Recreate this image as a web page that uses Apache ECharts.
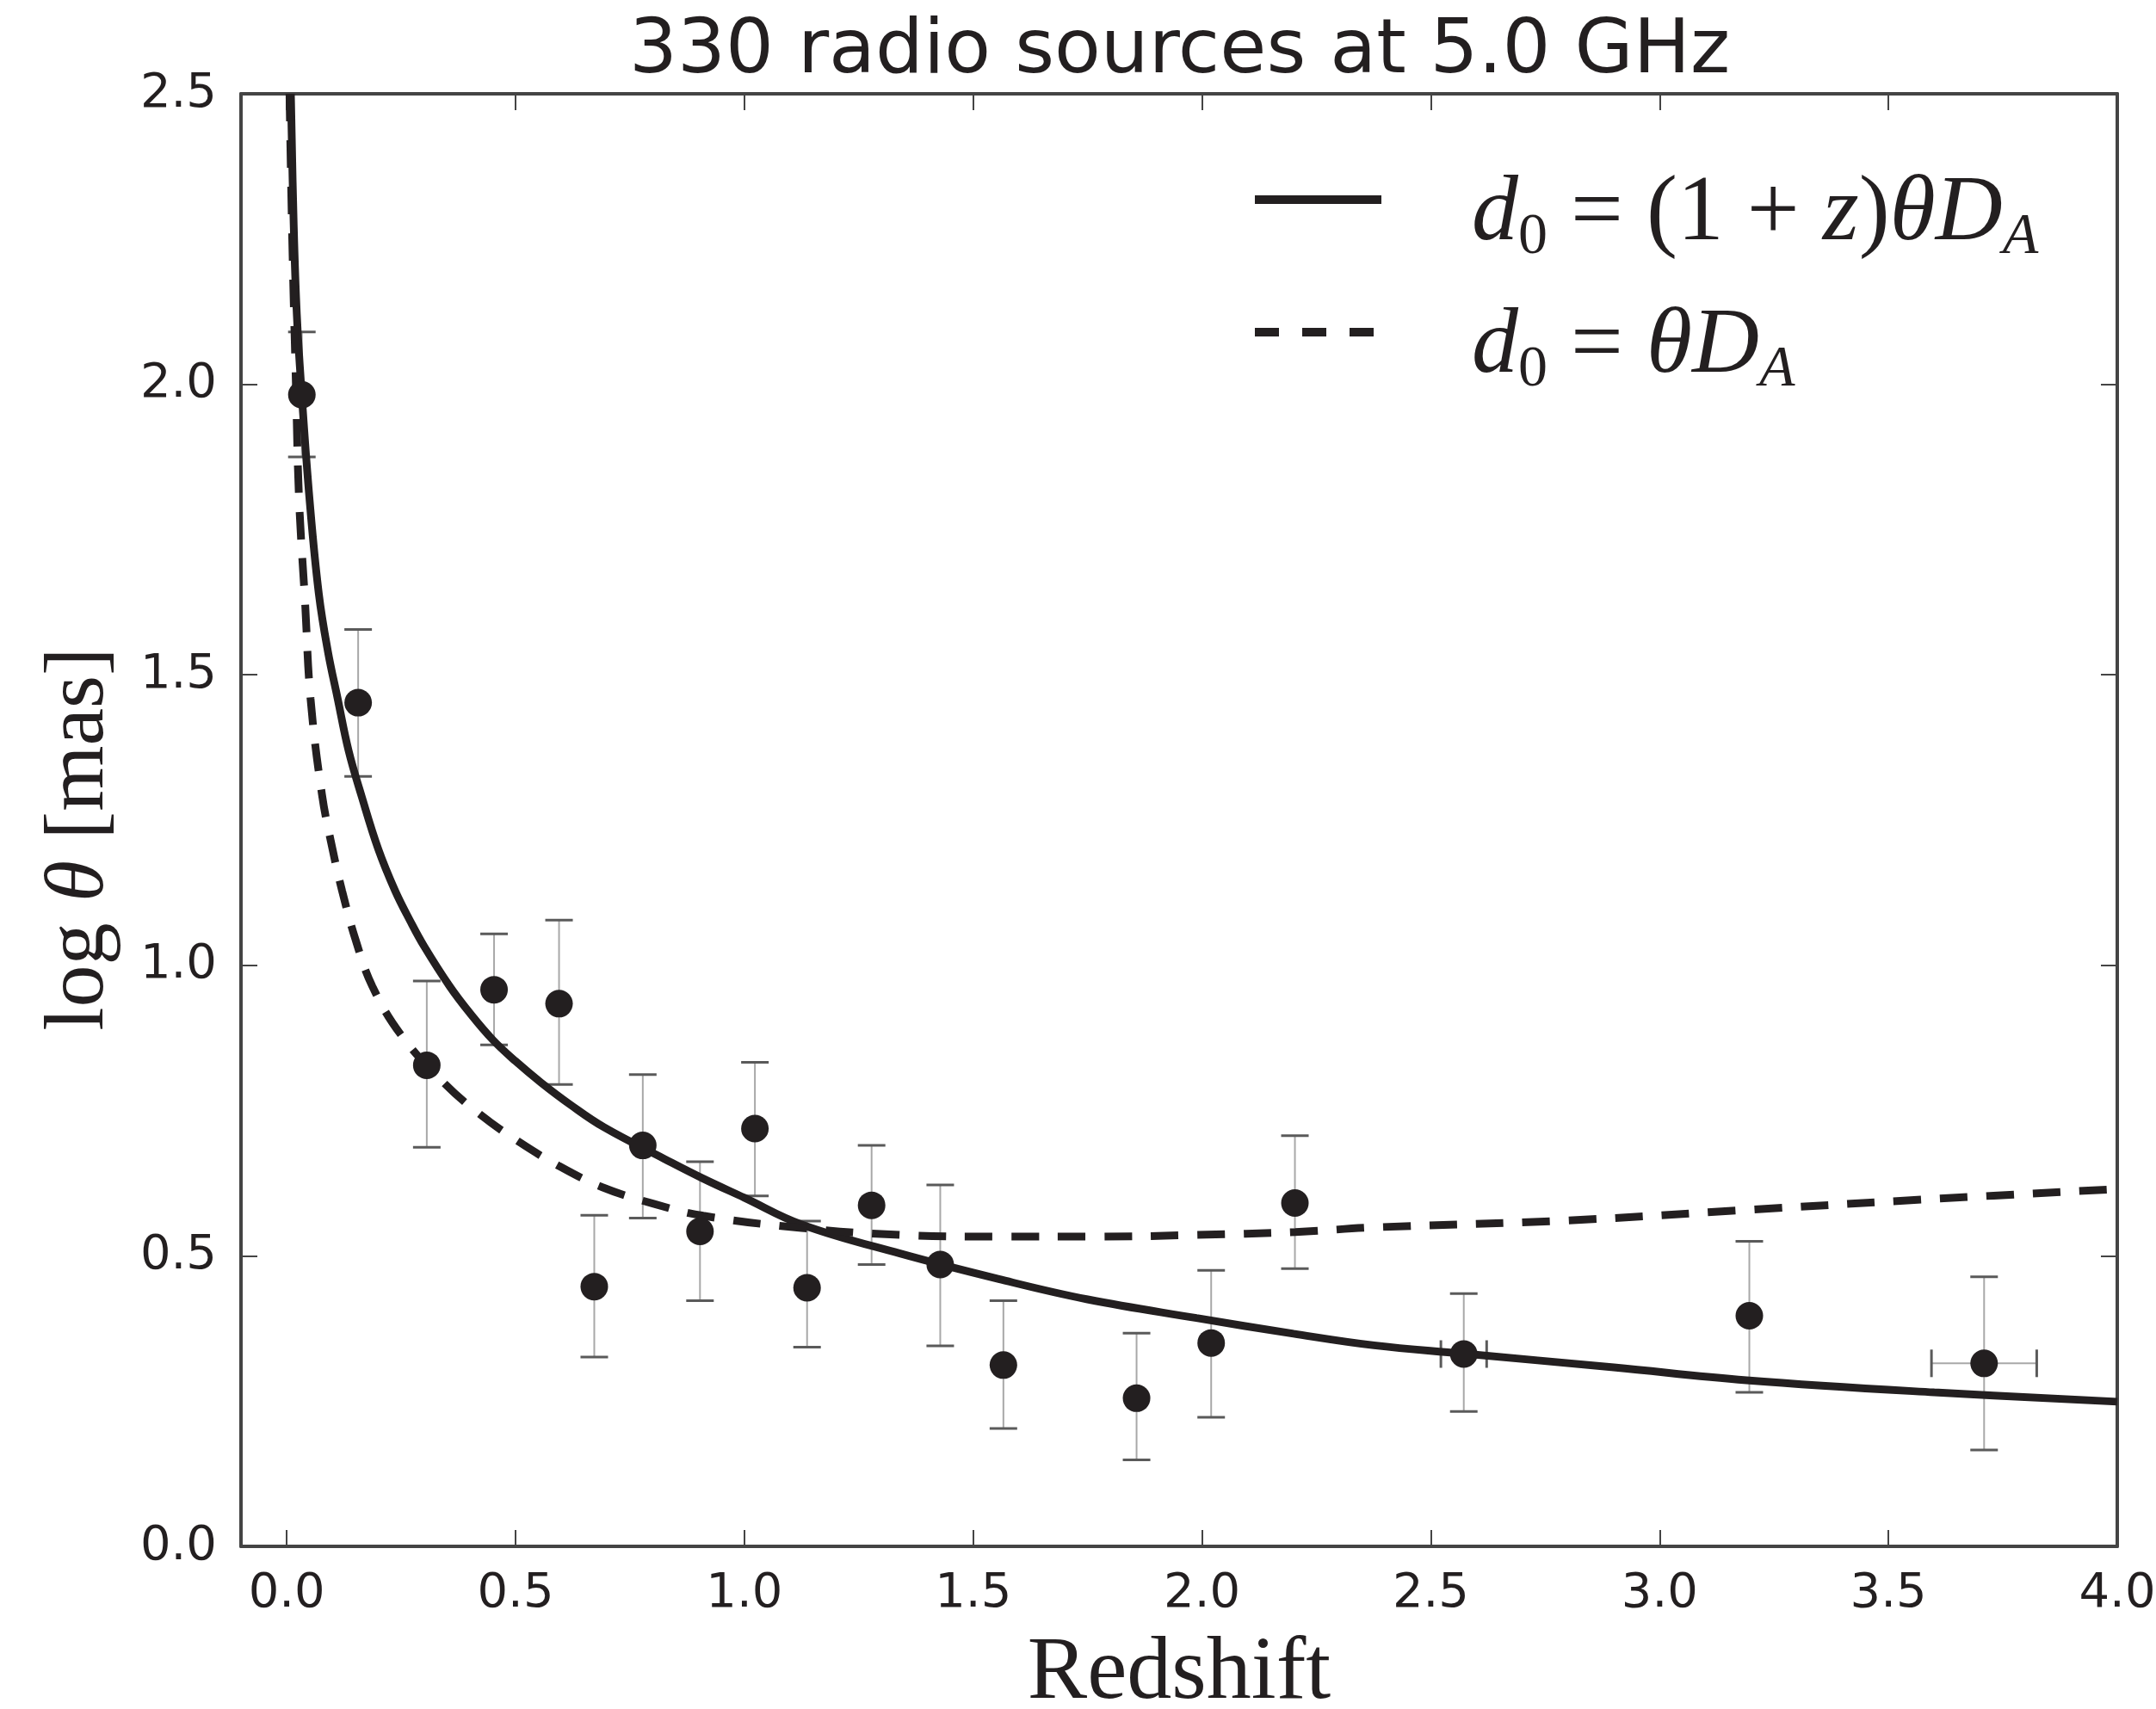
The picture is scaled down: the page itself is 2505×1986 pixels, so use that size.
<!DOCTYPE html>
<html>
<head>
<meta charset="utf-8">
<title>330 radio sources at 5.0 GHz</title>
<script src="https://cdn.jsdelivr.net/npm/echarts@6/dist/echarts.min.js"></script>
<style>
  html, body { margin: 0; padding: 0; background: #fff; }
  #chart { width: 2505px; height: 1986px; }
</style>
</head>
<body>
<div id="chart"></div>
<script>
// binned sources: redshift, log theta, lower / upper error, redshift half-error
const pointZ     = [0.033, 0.156, 0.306, 0.453, 0.595, 0.672, 0.778, 0.903, 1.023, 1.137, 1.278, 1.428, 1.566, 1.857, 2.020, 2.203, 2.572, 3.196, 3.709];
const pointTheta = [1.982, 1.452, 0.828, 0.958, 0.934, 0.447, 0.690, 0.542, 0.719, 0.445, 0.587, 0.485, 0.312, 0.255, 0.350, 0.591, 0.331, 0.397, 0.315];
const errLow     = [1.875, 1.325, 0.687, 0.863, 0.795, 0.326, 0.565, 0.423, 0.603, 0.343, 0.485, 0.345, 0.203, 0.149, 0.222, 0.478, 0.232, 0.265, 0.166];
const errHigh    = [2.090, 1.578, 0.973, 1.054, 1.078, 0.570, 0.812, 0.662, 0.833, 0.560, 0.690, 0.622, 0.423, 0.367, 0.475, 0.707, 0.435, 0.525, 0.464];
const errZ       = [0, 0, 0, 0, 0, 0, 0, 0, 0, 0, 0, 0, 0, 0, 0, 0, 0.050, 0, 0.115];

// model curves
const solidZ     = [0.009, 0.015, 0.022, 0.033, 0.050, 0.070, 0.090, 0.111, 0.135, 0.164, 0.200, 0.237, 0.270, 0.300, 0.356, 0.400, 0.450, 0.500, 0.556, 0.620, 0.694, 0.825, 0.910, 1.000, 1.125, 1.340, 1.556, 1.750, 1.988, 2.200, 2.376, 2.567, 2.900, 3.190, 3.600, 4.000];
const solidTheta = [2.500, 2.280, 2.120, 1.980, 1.800, 1.640, 1.540, 1.460, 1.370, 1.290, 1.200, 1.128, 1.076, 1.033, 0.964, 0.918, 0.872, 0.835, 0.798, 0.760, 0.721, 0.667, 0.633, 0.600, 0.554, 0.504, 0.460, 0.425, 0.393, 0.366, 0.346, 0.332, 0.308, 0.286, 0.265, 0.249];
const dashZ      = [0.006, 0.012, 0.020, 0.027, 0.040, 0.052, 0.077, 0.100, 0.121, 0.150, 0.187, 0.250, 0.343, 0.420, 0.500, 0.594, 0.690, 0.800, 0.910, 1.125, 1.340, 1.556, 1.772, 1.988, 2.204, 2.376, 2.800, 3.190, 3.600, 4.000];
const dashTheta  = [2.500, 2.250, 2.000, 1.800, 1.625, 1.459, 1.294, 1.200, 1.128, 1.045, 0.964, 0.880, 0.798, 0.745, 0.700, 0.655, 0.618, 0.590, 0.569, 0.548, 0.536, 0.533, 0.533, 0.536, 0.541, 0.549, 0.561, 0.579, 0.598, 0.615];

const xTicks = [0.0, 0.5, 1.0, 1.5, 2.0, 2.5, 3.0, 3.5, 4.0];

const solidName = 'd0 = (1 + z)θD_A';
const dashName = 'd0 = θD_A';

const ink = '#231f20';
const frame = '#444';

const errorData = pointZ.map((z, i) => [z, pointTheta[i], errLow[i], errHigh[i], errZ[i]]);

const legendText = {};
legendText[solidName] = '{g|}{i|d}{s|0}{r| = (1 + }{i|z}{r|)}{i|θD}{si|A}';
legendText[dashName] = '{g|}{i|d}{s|0}{r| = }{i|θD}{si|A}';

function renderError(params, api) {
  const z = api.value(0);
  const y = api.value(1);
  const ez = api.value(4);
  const top = api.coord([z, api.value(3)]);
  const bot = api.coord([z, api.value(2)]);
  const cap = 16;
  const stem = { stroke: '#a8a8a8', lineWidth: 2 };
  const capStyle = { stroke: '#5a5a5a', lineWidth: 3 };
  const children = [
    { type: 'line', shape: { x1: top[0], y1: top[1], x2: bot[0], y2: bot[1] }, style: stem },
    { type: 'line', shape: { x1: top[0] - cap, y1: top[1], x2: top[0] + cap, y2: top[1] }, style: capStyle },
    { type: 'line', shape: { x1: bot[0] - cap, y1: bot[1], x2: bot[0] + cap, y2: bot[1] }, style: capStyle }
  ];
  if (ez > 0) {
    const l = api.coord([z - ez, y]);
    const r = api.coord([z + ez, y]);
    children.push(
      { type: 'line', shape: { x1: l[0], y1: l[1], x2: r[0], y2: r[1] }, style: stem },
      { type: 'line', shape: { x1: l[0], y1: l[1] - cap, x2: l[0], y2: l[1] + cap }, style: capStyle },
      { type: 'line', shape: { x1: r[0], y1: r[1] - cap, x2: r[0], y2: r[1] + cap }, style: capStyle }
    );
  }
  return { type: 'group', children: children };
}

const tickStyle = { show: true, inside: true, length: 19, customValues: xTicks, lineStyle: { color: frame, width: 2 } };
const yTickStyle = { show: true, inside: true, length: 19, lineStyle: { color: frame, width: 2 } };

const mathMain = { fontFamily: 'Liberation Serif', fontSize: 108, lineHeight: 120, color: ink };
const mathSub = { fontFamily: 'Liberation Serif', fontSize: 68, lineHeight: 54, verticalAlign: 'bottom', color: ink };

const option = {
  backgroundColor: '#fff',
  animation: false,
  title: {
    text: '330 radio sources at 5.0 GHz',
    left: 731,
    top: 17,
    padding: 0,
    textStyle: { fontFamily: 'DejaVu Sans', fontSize: 88, fontWeight: 'normal', color: ink }
  },
  legend: {
    orient: 'vertical',
    left: 1453,
    top: 196,
    padding: 0,
    itemWidth: 147,
    itemHeight: 20,
    itemGap: 40,
    itemStyle: { opacity: 0 },
    lineStyle: { width: 10 },
    data: [
      { name: solidName },
      { name: dashName, lineStyle: { type: [28, 27], width: 10 } }
    ],
    formatter: name => legendText[name],
    textStyle: {
      color: ink,
      padding: [36, 0, 0, 0],
      rich: {
        g: { width: 100 },
        i: Object.assign({}, mathMain, { fontStyle: 'italic' }),
        r: mathMain,
        s: mathSub,
        si: Object.assign({}, mathSub, { fontStyle: 'italic' })
      }
    }
  },
  grid: { left: 280, right: 45, top: 109, bottom: 189, outerBoundsMode: 'none', containLabel: false },
  xAxis: [
    {
      type: 'value',
      min: -0.1,
      max: 4.0,
      name: 'Redshift',
      nameLocation: 'middle',
      nameGap: 97,
      nameTextStyle: { fontFamily: 'Liberation Serif', fontSize: 104, color: ink },
      axisLine: { show: true, onZero: false, lineStyle: { color: frame, width: 4 } },
      axisTick: tickStyle,
      axisLabel: {
        customValues: xTicks,
        margin: 27,
        fontFamily: 'DejaVu Sans',
        fontSize: 56,
        color: ink,
        formatter: v => v.toFixed(1)
      },
      splitLine: { show: false }
    },
    {
      type: 'value',
      position: 'top',
      min: -0.1,
      max: 4.0,
      axisLine: { show: true, onZero: false, lineStyle: { color: frame, width: 4 } },
      axisTick: tickStyle,
      axisLabel: { show: false },
      splitLine: { show: false }
    }
  ],
  yAxis: [
    {
      type: 'value',
      min: 0,
      max: 2.5,
      interval: 0.5,
      name: '{r|log }{i|θ}{r| [mas]}',
      nameLocation: 'middle',
      nameGap: 138,
      nameTextStyle: {
        padding: [0, 44, 0, 0],
        rich: {
          r: { fontFamily: 'Liberation Serif', fontSize: 98, color: ink },
          i: { fontFamily: 'Liberation Serif', fontStyle: 'italic', fontSize: 98, color: ink }
        }
      },
      axisLine: { show: true, onZero: false, lineStyle: { color: frame, width: 4 } },
      axisTick: yTickStyle,
      axisLabel: {
        margin: 28,
        fontFamily: 'DejaVu Sans',
        fontSize: 56,
        color: ink,
        formatter: v => v.toFixed(1)
      },
      splitLine: { show: false }
    },
    {
      type: 'value',
      position: 'right',
      min: 0,
      max: 2.5,
      interval: 0.5,
      axisLine: { show: true, onZero: false, lineStyle: { color: frame, width: 4 } },
      axisTick: yTickStyle,
      axisLabel: { show: false },
      splitLine: { show: false }
    }
  ],
  series: [
    {
      name: 'errors',
      type: 'custom',
      renderItem: renderError,
      encode: { x: 0, y: 1 },
      data: errorData,
      clip: true,
      z: 1
    },
    {
      name: solidName,
      type: 'line',
      data: solidZ.map((z, i) => [z, solidTheta[i]]),
      showSymbol: false,
      symbol: 'none',
      smooth: 0.4,
      clip: true,
      color: ink,
      lineStyle: { color: ink, width: 9, type: 'solid' },
      z: 3
    },
    {
      name: dashName,
      type: 'line',
      data: dashZ.map((z, i) => [z, dashTheta[i]]),
      showSymbol: false,
      symbol: 'none',
      smooth: 0.4,
      clip: true,
      color: ink,
      lineStyle: { color: ink, width: 9, type: [32, 22] },
      z: 3
    },
    {
      name: 'sources',
      type: 'scatter',
      data: pointZ.map((z, i) => [z, pointTheta[i]]),
      symbol: 'circle',
      symbolSize: 32,
      itemStyle: { color: ink, opacity: 1 },
      z: 4
    }
  ]
};

const chart = echarts.init(document.getElementById('chart'), null, { renderer: 'canvas' });
chart.setOption(option);
</script>
</body>
</html>
